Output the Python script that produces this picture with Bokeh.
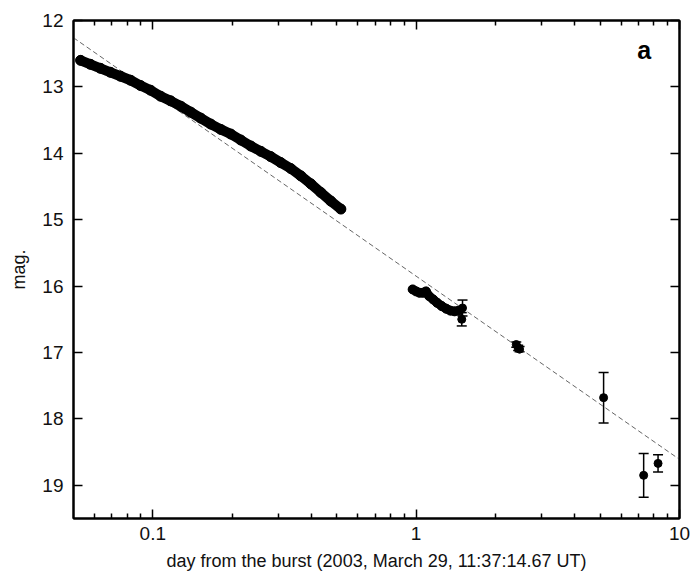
from bokeh.plotting import figure
from bokeh.models import (Range1d, FixedTicker, LogAxis, LinearAxis, ColumnDataSource,
                          Whisker, TeeHead, Label, CustomJSTickFormatter, CustomLabelingPolicy)
from bokeh.embed import file_html
from bokeh.resources import INLINE

# ---- data ----
early_day = [0.0532, 0.0580, 0.0633, 0.0691, 0.0755, 0.0824, 0.0899, 0.0981, 0.1071,
             0.1169, 0.1276, 0.1393, 0.1520, 0.1660, 0.1812, 0.1977, 0.2158, 0.2355,
             0.2571, 0.2806, 0.3063, 0.3343, 0.3649, 0.3983, 0.4347, 0.4745, 0.5178]
early_mag = [12.60, 12.66, 12.72, 12.78, 12.84, 12.90, 12.98, 13.05, 13.14,
             13.21, 13.29, 13.38, 13.47, 13.56, 13.64, 13.71, 13.80, 13.89,
             13.97, 14.05, 14.14, 14.23, 14.34, 14.46, 14.59, 14.72, 14.84]

mid_day = [0.97, 1.00, 1.03, 1.06, 1.09, 1.12, 1.16, 1.20, 1.25, 1.30, 1.35, 1.40, 1.45]
mid_mag = [16.05, 16.08, 16.10, 16.10, 16.08, 16.15, 16.20, 16.25, 16.30, 16.34, 16.37, 16.38, 16.37]

err_day = [1.50, 1.49, 2.40, 2.44, 2.47, 5.15, 7.31, 8.29]
err_mag = [16.33, 16.50, 16.88, 16.93, 16.95, 17.68, 18.85, 18.67]
err_size = [0.12, 0.10, 0.04, 0.04, 0.04, 0.38, 0.33, 0.13]

fit_day = [0.05, 10.0]
fit_mag = [12.26, 18.61]

x_major = [0.1, 1, 10]
x_minor = [0.06, 0.07, 0.08, 0.09, 0.2, 0.3, 0.4, 0.5, 0.6, 0.7, 0.8, 0.9,
           2, 3, 4, 5, 6, 7, 8, 9]
y_ticks = [12, 13, 14, 15, 16, 17, 18, 19]

FONT = "Liberation Sans"

p = figure(width=692, height=579, x_axis_type="log",
           x_range=Range1d(0.05, 10), y_range=Range1d(19.5, 12),
           output_backend="svg", toolbar_location=None,
           min_border_left=73, min_border_right=13, min_border_top=20, min_border_bottom=61)
p.grid.visible = False
p.outline_line_color = "black"
p.outline_line_width = 2
p.background_fill_color = "white"
p.border_fill_color = "white"

xt = FixedTicker(ticks=x_major, minor_ticks=x_minor)
yt = FixedTicker(ticks=y_ticks, minor_ticks=[])
fmt = CustomJSTickFormatter(code="return String(tick);")
hide_all = CustomLabelingPolicy(code="""
for (const i of indices)
  indices.unset(i)
""")


def style(ax, labels=True):
    ax.axis_line_width = 2
    ax.axis_line_color = "black"
    ax.major_tick_in = 9
    ax.major_tick_out = 0
    ax.minor_tick_in = 5
    ax.minor_tick_out = 0
    ax.major_tick_line_width = 1.5
    ax.minor_tick_line_width = 1.5
    ax.major_tick_line_color = "black"
    ax.minor_tick_line_color = "black"
    if labels:
        ax.major_label_text_font = FONT
        ax.major_label_text_font_size = "19px"
        ax.major_label_text_color = "#111111"
        ax.axis_label_text_font = FONT
        ax.axis_label_text_font_size = "18px"
        ax.axis_label_text_font_style = "normal"
        ax.axis_label_text_color = "#111111"
    else:
        ax.major_label_text_font_size = "1px"
        ax.major_label_standoff = 0
        ax.major_label_policy = hide_all


xa = p.xaxis[0]
xa.ticker = xt
xa.formatter = fmt
style(xa)
xa.major_label_standoff = 8
xa.axis_label = "day from the burst (2003, March 29, 11:37:14.67 UT)"
xa.axis_label_standoff = 8

ya = p.yaxis[0]
ya.ticker = yt
style(ya)
ya.major_label_standoff = 10
ya.axis_label = "mag."
ya.axis_label_standoff = 10

top = LogAxis(ticker=xt, formatter=fmt)
style(top, labels=False)
p.add_layout(top, "above")
right = LinearAxis(ticker=yt)
style(right, labels=False)
p.add_layout(right, "right")

# fit line
p.line(fit_day, fit_mag, line_color="#666666", line_width=1, line_dash="5 3")

# early dense light curve
p.line(early_day, early_mag, line_color="black", line_width=10, line_cap="round", line_join="round")
p.scatter(early_day, early_mag, size=10, color="black")

# second night
p.line(mid_day, mid_mag, line_color="black", line_width=9, line_cap="round", line_join="round")
p.scatter(mid_day, mid_mag, size=9, color="black")

# points with error bars
src = ColumnDataSource(dict(x=err_day, y=err_mag,
                            lo=[m - e for m, e in zip(err_mag, err_size)],
                            hi=[m + e for m, e in zip(err_mag, err_size)]))
p.add_layout(Whisker(base="x", lower="lo", upper="hi", source=src, dimension="height",
                     line_width=1.5, line_color="black",
                     lower_head=TeeHead(size=10, line_width=1.5, line_color="black"),
                     upper_head=TeeHead(size=10, line_width=1.5, line_color="black")))
p.scatter("x", "y", source=src, size=8, color="black")

p.add_layout(Label(x=7.35, y=12.45, text="a", text_font=FONT, text_font_size="25px",
                   text_font_style="bold", text_align="center", text_baseline="middle",
                   text_color="black"))

open("out.html", "w").write(file_html(p, INLINE))
